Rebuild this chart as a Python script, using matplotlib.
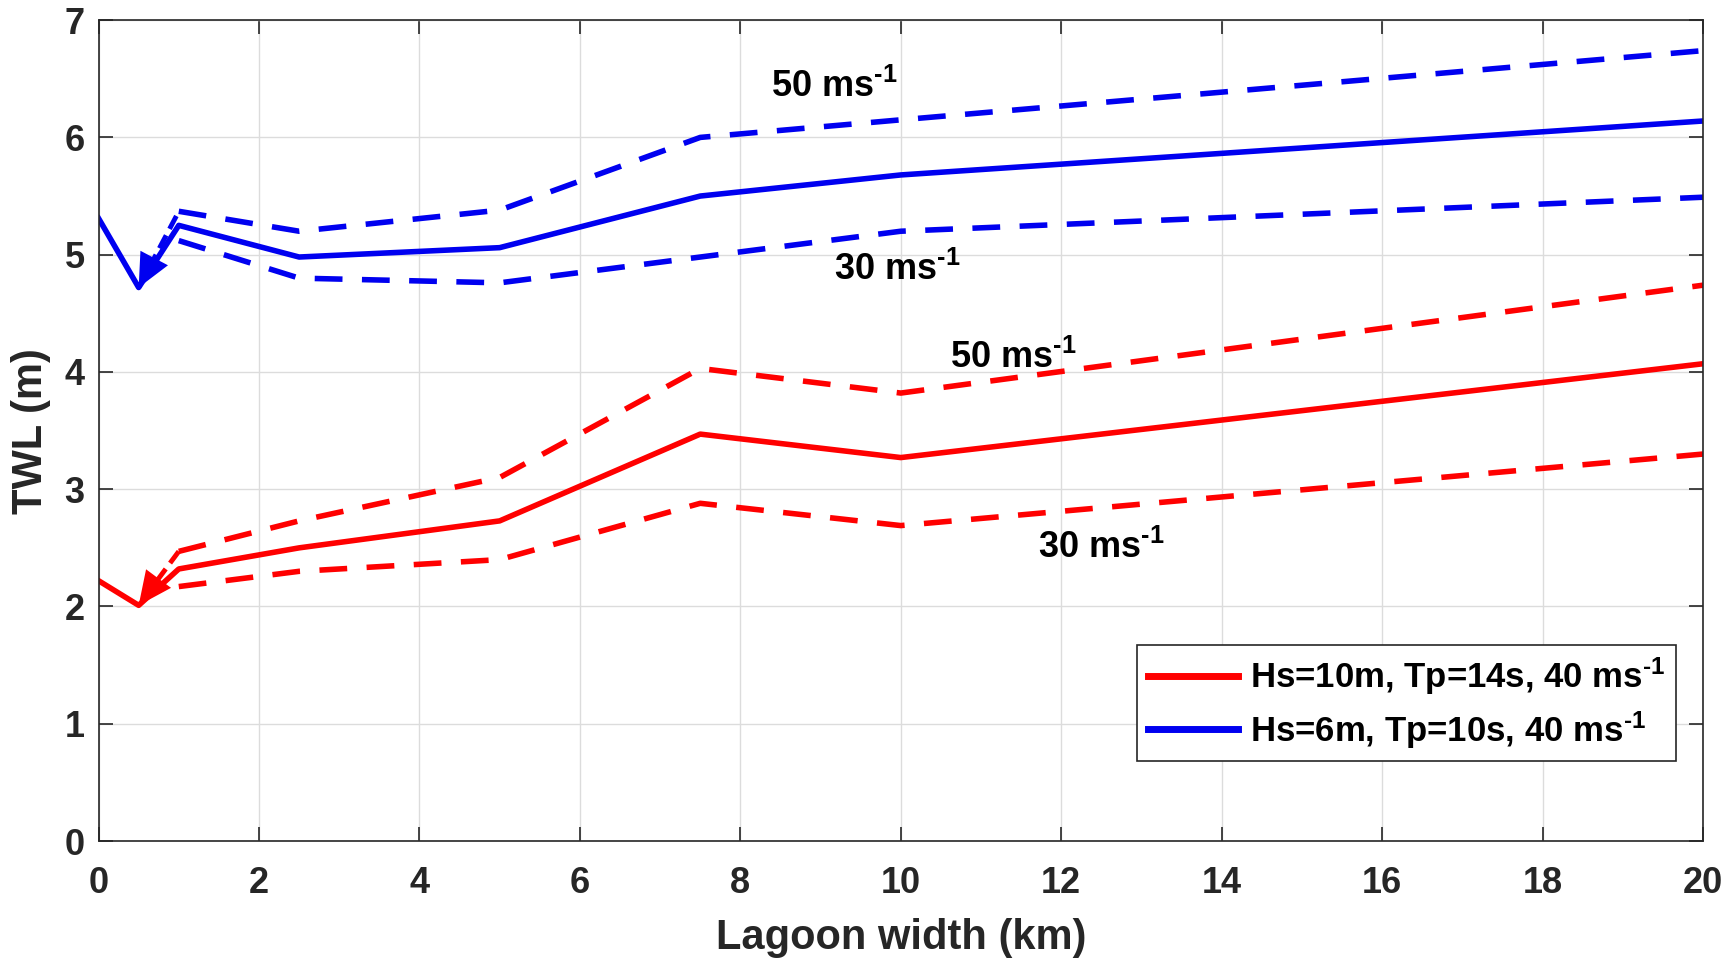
import matplotlib
matplotlib.use("Agg")
import matplotlib.pyplot as plt

plt.rcParams["font.family"] = ["Liberation Sans", "DejaVu Sans"]
plt.rcParams["font.weight"] = "bold"
plt.rcParams["mathtext.fontset"] = "custom"
plt.rcParams["mathtext.rm"] = "Liberation Sans:bold"
plt.rcParams["mathtext.bf"] = "Liberation Sans:bold"
plt.rcParams["mathtext.default"] = "rm"

# lagoon widths (km)
x_solid = [0, 0.5, 1, 2.5, 5, 7.5, 10, 20]
x_dash = [1, 2.5, 5, 7.5, 10, 20]

# Hs=10m, Tp=14s
red_40 = [2.22, 2.01, 2.32, 2.50, 2.73, 3.47, 3.27, 4.07]
red_50 = [2.47, 2.73, 3.10, 4.03, 3.82, 4.74]
red_30 = [2.17, 2.30, 2.40, 2.88, 2.69, 3.30]

# Hs=6m, Tp=10s
blue_40 = [5.31, 4.72, 5.25, 4.98, 5.06, 5.50, 5.68, 6.14]
blue_50 = [5.37, 5.20, 5.38, 6.00, 6.15, 6.74]
blue_30 = [5.12, 4.80, 4.76, 4.98, 5.20, 5.49]

RED = "#ff0000"
BLUE = "#0000f0"
LW = 4
DASH = (5, 3.5)
UNIT = r" ms$^{\text{-1}}$"

fig = plt.figure(figsize=(17.29, 9.59), dpi=100)
ax = fig.add_axes([0.057, 0.123, 0.928, 0.856])

ax.plot(x_solid, red_40, "-", color=RED, lw=LW, label="Hs=10m, Tp=14s, 40" + UNIT)
ax.plot(x_solid, blue_40, "-", color=BLUE, lw=LW, label="Hs=6m, Tp=10s, 40" + UNIT)
ax.plot(x_dash, red_50, color=RED, lw=LW, dashes=DASH)
ax.plot(x_dash, red_30, color=RED, lw=LW, dashes=DASH)
ax.plot(x_dash, blue_50, color=BLUE, lw=LW, dashes=DASH)
ax.plot(x_dash, blue_30, color=BLUE, lw=LW, dashes=DASH)

# dashed arrows pointing back to the 0.5 km value: dashed shaft + filled head
for (x0, y0), (x1, y1), c in [((0.97, 5.33), (x_solid[1], blue_40[1]), BLUE),
                              ((1.0, red_50[0]), (x_solid[1], red_40[1]), RED)]:
    ax.plot([x0, x1], [y0, y1], color=c, lw=3.5, dashes=(3, 1.5))
    ax.annotate("", xy=(x1, y1), xytext=(x0, y0),
                arrowprops=dict(arrowstyle="-|>,head_length=0.6,head_width=0.28",
                                fc=c, ec=c, lw=0, mutation_scale=40,
                                shrinkA=0, shrinkB=0))

lab_kw = dict(fontsize=26, fontweight="bold", ha="center", va="center")
ax.text(9.17, 6.43, "50" + UNIT, **lab_kw)
ax.text(9.95, 4.87, "30" + UNIT, **lab_kw)
ax.text(11.4, 4.12, "50" + UNIT, **lab_kw)
ax.text(12.5, 2.50, "30" + UNIT, **lab_kw)

ax.set_xlim(0, 20)
ax.set_ylim(0, 7)
ax.set_xticks(range(0, 21, 2))
ax.set_yticks(range(0, 8))
ax.grid(True, color="#dcdcdc", lw=1)
ax.set_axisbelow(True)
ax.tick_params(direction="in", length=10, width=1.2, labelsize=26, colors="#262626",
               top=True, right=True)
ax.tick_params(axis="x", pad=18)
ax.tick_params(axis="y", pad=10)
for s in ax.spines.values():
    s.set_color("#262626")
    s.set_linewidth(1.2)
ax.set_xlabel("Lagoon width (km)", fontsize=30, fontweight="bold", color="#262626", labelpad=12)
ax.set_ylabel("TWL (m)", fontsize=30, fontweight="bold", color="#262626", labelpad=10)

leg = ax.legend(loc="lower right", bbox_to_anchor=(0.983, 0.0975), borderaxespad=0,
                fontsize=25, handlelength=2.6, handletextpad=0.35, fancybox=False,
                framealpha=1, edgecolor="#262626", borderpad=0.3, labelspacing=0.35)
leg.get_frame().set_linewidth(1.2)
for h in leg.get_lines():
    h.set_linewidth(5)

fig.savefig("out.png", dpi=100)
